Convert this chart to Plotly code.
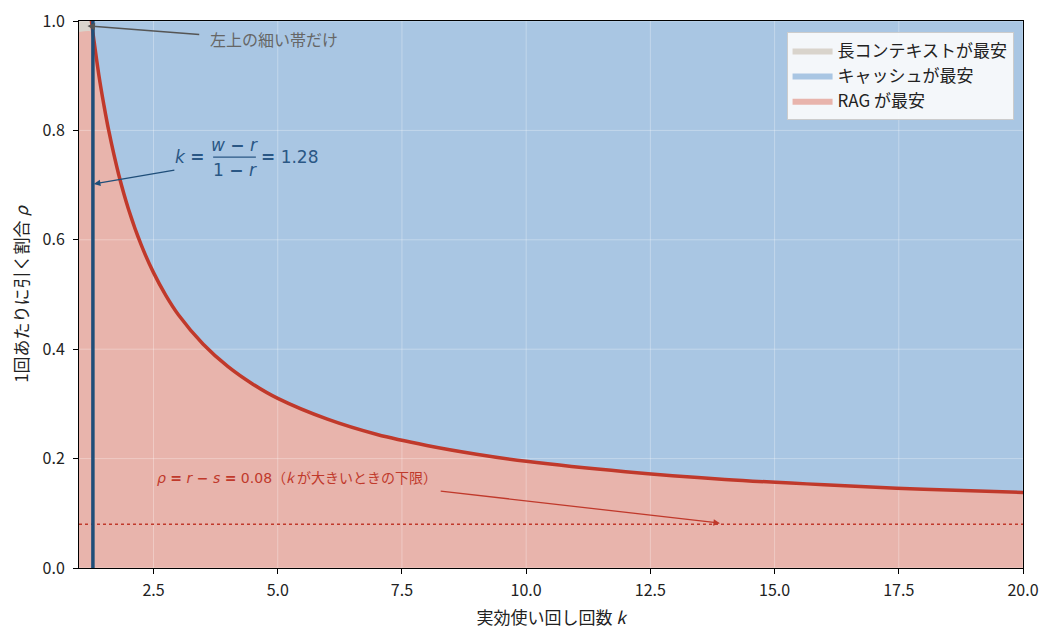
import plotly.graph_objects as go

# 読み取った境界曲線（キャッシュ / RAG の境目）
k_curve = [1.15, 1.25, 1.3, 1.4, 1.5, 1.6, 1.8, 2.0, 2.25, 2.5, 2.75, 3.0, 3.5,
           4.0, 4.5, 5.0, 6.0, 7.0, 8.0, 9.0, 10.0, 12.0, 14.0, 16.0, 18.0, 20.0]
rho_curve = [1.08, 1.0, 0.965, 0.901, 0.847, 0.799, 0.719, 0.655, 0.591, 0.54,
             0.498, 0.463, 0.409, 0.368, 0.336, 0.31, 0.272, 0.244, 0.224, 0.208,
             0.195, 0.176, 0.162, 0.152, 0.144, 0.138]

k_min, k_max = 1.0, 20.0
k_star = 1.28      # (w-r)/(1-r)
rho_lc = 0.98      # 1-s
rho_floor = 0.08   # r-s

x_ticks = [2.5, 5.0, 7.5, 10.0, 12.5, 15.0, 17.5, 20.0]
y_ticks = [0.0, 0.2, 0.4, 0.6, 0.8, 1.0]

c_tan = "#d9d4cc"
c_blue = "#a9c6e3"
c_red = "#e8b4ac"
c_curve = "#c0392b"
c_vline = "#1f4e79"
JP = "Noto Sans CJK JP"
MATH = "DejaVu Sans"

fig = go.Figure()

fig.add_trace(go.Scatter(x=[k_min, k_star], y=[1, 1], fill="tozeroy", mode="lines",
                         line=dict(width=0), fillcolor=c_tan, name="長コンテキストが最安"))
fig.add_trace(go.Scatter(x=[k_star, k_max], y=[1, 1], fill="tozeroy", mode="lines",
                         line=dict(width=0), fillcolor=c_blue, name="キャッシュが最安"))

rag_x = [k_min, k_star] + [k for k in k_curve if k > k_star]
rag_y = [rho_lc, rho_lc] + [r for k, r in zip(k_curve, rho_curve) if k > k_star]
fig.add_trace(go.Scatter(x=rag_x, y=rag_y, fill="tozeroy", mode="lines",
                         line=dict(width=0, shape="spline"), fillcolor=c_red,
                         name="RAG が最安"))

# grid above the fills, like matplotlib
for xv in x_ticks:
    fig.add_trace(go.Scatter(x=[xv, xv], y=[0, 1], mode="lines", showlegend=False,
                             hoverinfo="skip", line=dict(color="rgba(255,255,255,0.3)", width=1)))
for yv in y_ticks:
    fig.add_trace(go.Scatter(x=[k_min, k_max], y=[yv, yv], mode="lines", showlegend=False,
                             hoverinfo="skip", line=dict(color="rgba(255,255,255,0.3)", width=1)))

fig.add_trace(go.Scatter(x=[k_min, k_max], y=[rho_floor, rho_floor], mode="lines",
                         showlegend=False, line=dict(color=c_curve, width=1.3, dash="dot")))
fig.add_trace(go.Scatter(x=k_curve, y=rho_curve, mode="lines", showlegend=False,
                         line=dict(color=c_curve, width=3.5, shape="spline")))
fig.add_trace(go.Scatter(x=[k_star, k_star], y=[0, 1], mode="lines", showlegend=False,
                         line=dict(color=c_vline, width=3.5)))

blue_txt = "#2a5785"
annots = [
    dict(x=1.17, y=0.991, ax=3.45, ay=0.975, axref="x", ayref="y", text="",
         showarrow=True, arrowhead=2, arrowsize=1, arrowwidth=1.5, arrowcolor="#555555"),
    dict(x=3.6, y=0.968, text="左上の細い帯だけ", showarrow=False, xanchor="left",
         font=dict(family=JP, size=16, color="#666666")),
    dict(x=1.3, y=0.702, ax=2.95, ay=0.728, axref="x", ayref="y", text="",
         showarrow=True, arrowhead=2, arrowsize=1, arrowwidth=1.3, arrowcolor=c_vline),
    dict(x=3.58, y=0.751, text="<i>k</i> <b>=</b>", showarrow=False, xanchor="right",
         font=dict(family=MATH, size=17, color=blue_txt)),
    dict(x=4.13, y=0.774, text="<i>w</i> <b>−</b> <i>r</i>", showarrow=False,
         font=dict(family=MATH, size=17, color=blue_txt)),
    dict(x=4.13, y=0.727, text="1 <b>−</b> <i>r</i>", showarrow=False,
         font=dict(family=MATH, size=17, color=blue_txt)),
    dict(x=4.62, y=0.751, text="<b>=</b> 1.28", showarrow=False, xanchor="left",
         font=dict(family=MATH, size=17, color=blue_txt)),
    dict(x=13.9, y=0.082, ax=8.25, ay=0.141, axref="x", ayref="y", text="",
         showarrow=True, arrowhead=2, arrowsize=1, arrowwidth=1.3, arrowcolor=c_curve),
    dict(x=2.53, y=0.166, xanchor="left", showarrow=False,
         text=(f"<span style='font-family:{MATH}'><i>ρ</i> <b>=</b> <i>r</i> <b>−</b> "
               f"<i>s</i> <b>=</b> 0.08</span>（<i>k</i> が大きいときの下限）"),
         font=dict(family=JP, size=14, color=c_curve)),
]
fig.update_layout(annotations=annots)
fig.add_shape(type="line", x0=3.70, x1=4.56, y0=0.751, y1=0.751, xref="x", yref="y",
              line=dict(color=blue_txt, width=1.3))

fig.update_layout(
    width=1045, height=621,
    margin=dict(l=71, r=30, t=13, b=61),
    paper_bgcolor="white", plot_bgcolor="white",
    font=dict(family=JP, size=16, color="#222222"),
    showlegend=True,
    legend=dict(x=0.99, y=0.98, xanchor="right", yanchor="top",
                bgcolor="rgba(252,252,252,0.9)", bordercolor="#cccccc", borderwidth=1,
                font=dict(family=JP, size=17), traceorder="normal", itemwidth=40),
    xaxis=dict(range=[k_min, k_max], tickvals=x_ticks, ticktext=[f"{v:.1f}" for v in x_ticks],
               showgrid=False, zeroline=False, showline=True, mirror=True, linecolor="black",
               ticks="outside", ticklen=5, tickcolor="black", automargin=False,
               ticklabelstandoff=3, ticklabeloverflow="allow",
               title=dict(text="実効使い回し回数 <i>k</i>", font=dict(size=17), standoff=12)),
    yaxis=dict(range=[0, 1], tickvals=y_ticks, ticktext=[f"{v:.1f}" for v in y_ticks],
               showgrid=False, zeroline=False, showline=True, mirror=True, linecolor="black",
               ticks="outside", ticklen=5, tickcolor="black", automargin=False,
               ticklabelstandoff=5, ticklabeloverflow="allow",
               title=dict(text="1回あたりに引く割合 <i>ρ</i>", font=dict(size=17), standoff=10)),
)

fig.write_html("out.html")
